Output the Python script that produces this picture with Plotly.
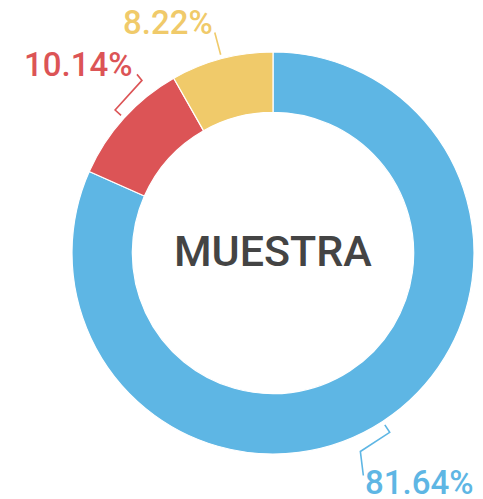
import math
import plotly.graph_objects as go

# ---- data ----
labels = ["Azul", "Rojo", "Amarillo"]
values = [81.64, 10.14, 8.22]
center_text = "MUESTRA"

# ---- style ----
colors = ["#5EB6E4", "#DC5456", "#F0CA6A"]
OFF = 8                            # default page body margin
W, H = 483 - OFF, 499 - OFF
CX, CY, R = 273 - OFF, 253 - OFF, 201   # pixel centre (in figure) and outer radius
HOLE = 0.70
FONT = "Roboto, 'Open Sans', sans-serif"
# leader style per slice: (start gap, radial length, tangential length, final dx, dy, label dx, label dy)
leader = [
    (4, 9, 35, 3, 24, 56, 7),
    (4, 8, 40, -5, -6, -58, -10),
    (4, 23, 0, 0, 0, -47, -10),
]

fig = go.Figure()
fig.add_trace(go.Pie(
    labels=labels, values=values, hole=HOLE, sort=False, direction="clockwise",
    rotation=0, textinfo="none", hoverinfo="label+percent",
    marker=dict(colors=colors, line=dict(color="white", width=1.2)),
    domain=dict(x=[(CX - R) / W, (CX + R) / W], y=[(H - CY - R) / H, (H - CY + R) / H]),
    showlegend=False,
))

def to_paper(px, py):
    return px / W, 1 - py / H

total = sum(values)
cum = 0.0
shapes, annos = [], []
for v, c, (g, d1, t, fdx, fdy, ldx, ldy) in zip(values, colors, leader):
    mid = (cum + v / 2) / total * 2 * math.pi
    cum += v
    u = (math.sin(mid), -math.cos(mid))
    tv = (math.cos(mid), math.sin(mid))
    p0 = (CX + (R + g) * u[0], CY + (R + g) * u[1])
    p1 = (CX + (R + g + d1) * u[0], CY + (R + g + d1) * u[1])
    p2 = (p1[0] + t * tv[0], p1[1] + t * tv[1])
    p3 = (p2[0] + fdx, p2[1] + fdy)
    pts = [p0, p1, p2, p3]
    path = "M " + " L ".join("%.4f,%.4f" % to_paper(*p) for p in pts)
    shapes.append(dict(type="path", path=path, xref="paper", yref="paper",
                       line=dict(color=c, width=1.6)))
    lx, ly = to_paper(p3[0] + ldx, p3[1] + ldy)
    annos.append(dict(text="%.2f%%" % (v / total * 100), x=lx, y=ly, xref="paper", yref="paper",
                      xanchor="center", yanchor="middle", showarrow=False,
                      font=dict(family=FONT, size=33, color=c, weight=500)))

annos.append(dict(text=center_text, x=CX / W, y=1 - (CY - 2) / H, xref="paper", yref="paper",
                  xanchor="center", yanchor="middle", showarrow=False,
                  font=dict(family=FONT, size=43, color="#444444", weight=500)))

fig.update_layout(width=W, height=H, margin=dict(l=0, r=0, t=0, b=0),
                  paper_bgcolor="white", plot_bgcolor="white",
                  shapes=shapes, annotations=annos)
fig.write_html("out.html")
